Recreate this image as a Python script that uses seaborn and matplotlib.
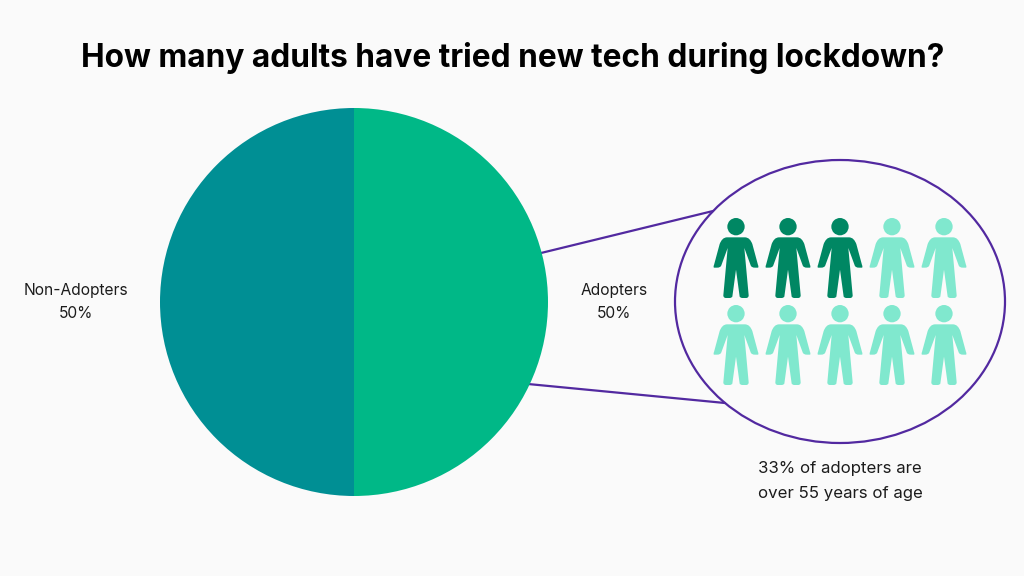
import matplotlib
matplotlib.use("Agg")
import matplotlib.pyplot as plt
import seaborn as sns
import pandas as pd
from matplotlib.path import Path
from matplotlib.patches import Ellipse

title = "How many adults have tried new tech during lockdown?"
segments = ["Non-Adopters", "Adopters"]
shares = [50, 50]
segment_colors = ["#008F94", "#00B887"]
people_total = 10
people_per_row = 5
people_over_55 = 3
note = "33% of adopters are\nover 55 years of age"

BG = "#FAFAFA"
PURPLE = "#5229A0"
DARK = "#008763"
LIGHT = "#80E8CE"
W, H = 1024, 576

sns.set_theme(style="white")
plt.rcParams["font.family"] = ["Inter", "DejaVu Sans"]


def person_path():
    # right half of the outline, then mirrored; centre at origin, y up
    verts = [
        (0, 62), (26, 62), (38, 62), (44, 54), (49, 42),
        (66, -21), (69, -27), (66, -29), (58, -29),
        (50, -29), (46, -27), (44, -22),
        (25, 30),
        (38, -112),
        (38, -117), (35, -120), (30, -120),
        (19, -120), (14, -120), (11, -116),
        (0, -35),
    ]
    codes = [Path.MOVETO, Path.LINETO, Path.CURVE4, Path.CURVE4, Path.CURVE4,
             Path.LINETO, Path.CURVE3, Path.CURVE3, Path.LINETO,
             Path.CURVE4, Path.CURVE4, Path.CURVE4,
             Path.LINETO,
             Path.LINETO,
             Path.CURVE4, Path.CURVE4, Path.CURVE4,
             Path.LINETO, Path.CURVE3, Path.CURVE3,
             Path.LINETO]
    segs = []
    i = 1
    while i < len(verts):
        c = codes[i]
        n = {Path.LINETO: 1, Path.CURVE3: 2, Path.CURVE4: 3}[c]
        segs.append((c, verts[i - 1:i + n]))
        i += n
    all_v = list(verts)
    all_c = list(codes)
    for c, pts in reversed(segs):
        mirrored = [(-x, y) for x, y in reversed(pts)]
        all_v += mirrored[1:]
        all_c += [c] * (len(mirrored) - 1)
    all_v.append((0, 62))
    all_c.append(Path.CLOSEPOLY)
    body = Path(all_v, all_c)
    head = Path.circle((0, 94), 26)
    return Path.make_compound_path(body, head)


fig = plt.figure(figsize=(W / 100, H / 100), dpi=100, facecolor=BG)

# overlay in pixel units for annotation shapes
ov = fig.add_axes([0, 0, 1, 1])
ov.set_xlim(0, W)
ov.set_ylim(H, 0)
ov.axis("off")

# pie
cx, cy, r = 354, 302, 194
pie_ax = fig.add_axes([(cx - r) / W, 1 - (cy + r) / H, 2 * r / W, 2 * r / H])
pie_ax.pie(shares, colors=segment_colors, startangle=90, radius=1,
           wedgeprops={"linewidth": 0})
pie_ax.set_xlim(-1, 1)
pie_ax.set_ylim(-1, 1)

# callout
ov.plot([541, 713], [253, 211], color=PURPLE, lw=1.6, solid_capstyle="round")
ov.plot([528, 725], [384, 403], color=PURPLE, lw=1.6, solid_capstyle="round")
ov.add_patch(Ellipse((840, 301.5), 330, 283, facecolor="none", edgecolor=PURPLE, lw=1.6))

# people grid
people = pd.DataFrame({
    "col": [i % people_per_row for i in range(people_total)],
    "row": [i // people_per_row for i in range(people_total)],
    "group": ["over" if i < people_over_55 else "under" for i in range(people_total)],
})
grid = fig.add_axes([(736 - 52) / W, 1 - (345 + 87) / H, (5 * 52) / W, (3 * 87) / H])
grid.patch.set_alpha(0)
sns.scatterplot(data=people, x="col", y="row", hue="group",
                palette={"over": DARK, "under": LIGHT},
                marker=person_path(), s=(80 * 0.72) ** 2, linewidth=0,
                legend=False, ax=grid, clip_on=False)
grid.set_xlim(-1, 4)
grid.set_ylim(2, -1)
grid.axis("off")

# text
fig.text(513 / W, 1 - 58 / H, title, ha="center", va="center",
         fontsize=22.75, fontweight="bold", color="black")
tc = "#1c1c1c"
ov.text(76, 302, f"{segments[0]}\n{shares[0]}%", ha="center", va="center",
        fontsize=11.2, color=tc, linespacing=1.7)
ov.text(614, 302, f"{segments[1]}\n{shares[1]}%", ha="center", va="center",
        fontsize=11.2, color=tc, linespacing=1.7)
ov.text(840, 481, note, ha="center", va="center", fontsize=12.1, color=tc,
        linespacing=1.9)

fig.savefig("out.png", dpi=100, facecolor=BG)
